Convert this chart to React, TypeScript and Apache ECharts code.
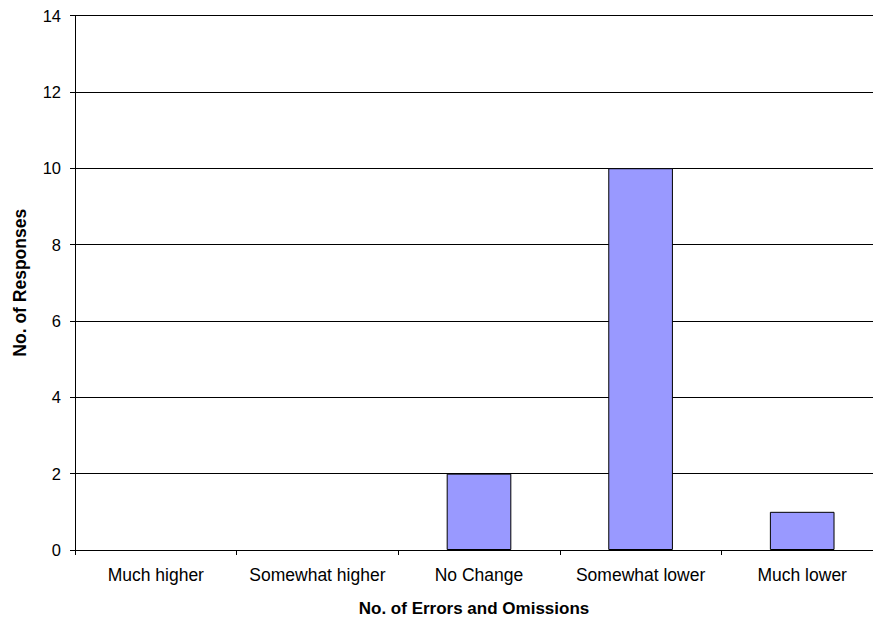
import React, { useEffect, useRef } from "react";
import * as echarts from "echarts";

const categories = ["Much higher", "Somewhat higher", "No Change", "Somewhat lower", "Much lower"];
const responses = [0, 0, 2, 10, 1];
const yTicks = [0, 2, 4, 6, 8, 10, 12, 14];

export default function App() {
  const ref = useRef<HTMLDivElement>(null);
  useEffect(() => {
    const chart = echarts.init(ref.current!, null, { renderer: "svg" });
    chart.setOption({
      animation: false,
      backgroundColor: "#ffffff",
      grid: { left: 75, right: 0, top: 15.5, bottom: 71 },
      xAxis: {
        type: "category",
        data: categories,
        name: "No. of Errors and Omissions",
        nameLocation: "middle",
        nameGap: 50,
        nameTextStyle: { fontFamily: "Liberation Sans", fontWeight: "bold", fontSize: 17, color: "#000", padding: [0, 10, 0, 0] },
        axisLine: { lineStyle: { color: "#000", width: 1 } },
        axisTick: { show: true, length: 5, lineStyle: { color: "#000" }, alignWithLabel: false },
        axisLabel: { fontFamily: "Liberation Sans", fontSize: 17.5, color: "#000", margin: 16, interval: 0 },
        splitLine: { show: false },
      },
      yAxis: {
        type: "value",
        min: yTicks[0],
        max: yTicks[yTicks.length - 1],
        interval: 2,
        name: "No. of Responses",
        nameLocation: "middle",
        nameGap: 55,
        nameTextStyle: { fontFamily: "Liberation Sans", fontWeight: "bold", fontSize: 17.5, color: "#000", verticalAlign: "middle" },
        axisLine: { show: true, lineStyle: { color: "#000", width: 1 } },
        axisTick: { show: true, length: 5, lineStyle: { color: "#000" } },
        axisLabel: { fontFamily: "Liberation Sans", fontSize: 16.5, color: "#000", margin: 14 },
        splitLine: { show: true, lineStyle: { color: "#000", width: 1 } },
      },
      series: [
        {
          type: "bar",
          data: responses.map((v) => (v === 0 ? "-" : v)),
          barWidth: "40%",
          itemStyle: { color: "#9999FF", borderColor: "#000", borderWidth: 1 },
        },
      ],
    });
    return () => chart.dispose();
  }, []);
  return (
    <div style={{ position: "fixed", left: 0, top: 0, width: 873, height: 622, overflow: "hidden", background: "#fff" }}>
      <div ref={ref} style={{ width: 883, height: 622 }} />
    </div>
  );
}
